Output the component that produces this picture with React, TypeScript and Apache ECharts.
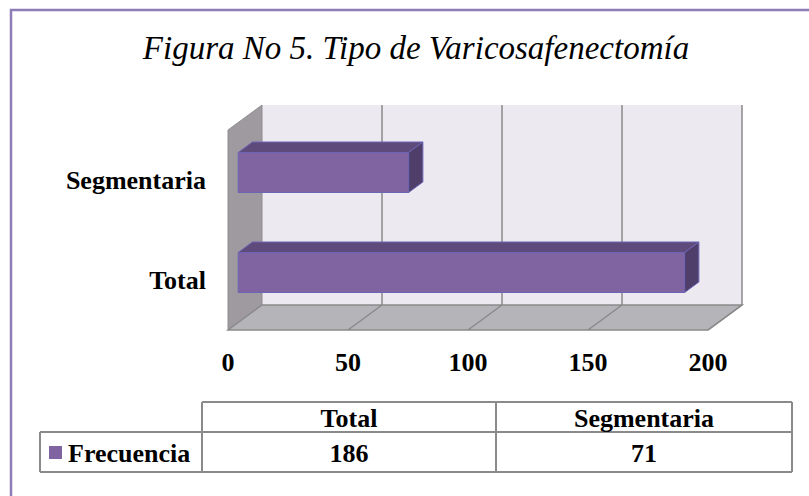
import React, { useEffect, useRef } from 'react';
import * as echarts from 'echarts';

const titleText = 'Figura No 5. Tipo de Varicosafenectomía';
const categories = ['Total', 'Segmentaria'];
const frecuencia = [186, 71];
const seriesName = 'Frecuencia';
const xTicks = [0, 50, 100, 150, 200];

const FONT = '"Liberation Serif", "Times New Roman", serif';
const DEPTH = [34, -25];
const BAR = '#8064A2';
const BAR_TOP = '#5F4B7B';
const BAR_SIDE = '#4F3E6A';
const BAR_EDGE = '#6C64B4';
const GRID = '#8A8A8A';
const LABEL_SIZE = 26;

export default function App() {
  const ref = useRef<HTMLDivElement>(null);
  useEffect(() => {
    if (!ref.current) return;
    const chart = echarts.init(ref.current, undefined, { renderer: 'svg' });
    const [dx, dy] = DEPTH;

    // table geometry
    const tTop = 402, tMid = 432, tBot = 472;
    const cLeft = 40, c0 = 202, c1 = 496, c2 = 792;
    const colCenters = [(c0 + c1) / 2, (c1 + c2) / 2];
    const lineStyle = { stroke: GRID, lineWidth: 2 };
    const hline = (x1: number, x2: number, y: number) => ({ type: 'line', shape: { x1, y1: y, x2, y2: y }, style: lineStyle });
    const vline = (x: number, y1: number, y2: number) => ({ type: 'line', shape: { x1: x, y1, x2: x, y2 }, style: lineStyle });
    const cellText = (text: string, x: number, y: number, align = 'center') => ({
      type: 'text', x, y,
      style: { text, fill: '#000', font: `bold ${LABEL_SIZE}px ${FONT}`, align, verticalAlign: 'middle' },
    });

    const tableEls: any[] = [
      hline(c0, c2, tTop), hline(cLeft, c2, tMid), hline(cLeft, c2, tBot),
      vline(c0, tTop, tBot), vline(c1, tTop, tBot), vline(c2, tTop, tBot), vline(cLeft, tMid, tBot),
      { type: 'rect', shape: { x: 49, y: 446, width: 13, height: 13 }, style: { fill: BAR } },
      cellText(seriesName, 68, (tMid + tBot) / 2 + 1, 'left'),
    ];
    categories.forEach((c, i) => {
      tableEls.push(cellText(c, colCenters[i], (tTop + tMid) / 2 + 1));
      tableEls.push(cellText(String(frecuencia[i]), colCenters[i], (tMid + tBot) / 2 + 1));
    });

    const option: any = {
      animation: false,
      backgroundColor: '#fff',
      grid: { left: 228, right: 101, top: 130, bottom: 166 },
      xAxis: {
        type: 'value', min: xTicks[0], max: xTicks[xTicks.length - 1], interval: xTicks[1] - xTicks[0],
        axisLine: { show: false }, axisTick: { show: false }, splitLine: { show: false },
        axisLabel: { margin: 19, color: '#000', fontFamily: FONT, fontWeight: 'bold', fontSize: LABEL_SIZE },
      },
      yAxis: {
        type: 'category', data: categories,
        axisLine: { show: false }, axisTick: { show: false }, splitLine: { show: false },
        axisLabel: { margin: 22, color: '#000', fontFamily: FONT, fontWeight: 'bold', fontSize: LABEL_SIZE },
      },
      graphic: [
        { type: 'rect', shape: { x: 11, y: 10, width: 830, height: 520 }, style: { fill: 'none', stroke: '#8E7CB6', lineWidth: 2.5 }, z: 100 },
        {
          type: 'text', x: 416, y: 48,
          style: { text: titleText, fill: '#000', font: `italic 33px ${FONT}`, align: 'center', verticalAlign: 'middle' },
        },
        ...tableEls,
      ],
      series: [
        {
          type: 'custom', name: 'walls', z: 1, silent: true,
          data: [[0, 0]],
          renderItem: (params: any) => {
            const cs = params.coordSys;
            const x = cs.x, y = cs.y, w = cs.width, h = cs.height;
            return {
              type: 'group',
              children: [
                { type: 'rect', shape: { x: x + dx, y: y + dy, width: w, height: h }, style: { fill: '#ECE9F1' } },
                { type: 'polygon', shape: { points: [[x, y], [x + dx, y + dy], [x + dx, y + h + dy], [x, y + h]] }, style: { fill: '#9E9AA0', stroke: '#8E8E8E', lineWidth: 1 } },
                { type: 'polygon', shape: { points: [[x, y + h], [x + dx, y + h + dy], [x + w + dx, y + h + dy], [x + w, y + h]] }, style: { fill: '#B5B4B9', stroke: GRID, lineWidth: 1.5 } },
              ],
            };
          },
        },
        {
          type: 'custom', name: 'gridlines', z: 2, silent: true,
          data: xTicks.filter((t) => t > 0).map((t) => [t, 0]),
          renderItem: (params: any, api: any) => {
            const cs = params.coordSys;
            const y = cs.y, h = cs.height;
            const px = api.coord([api.value(0), 0])[0];
            return {
              type: 'group',
              children: [
                { type: 'line', shape: { x1: px + dx, y1: y + dy, x2: px + dx, y2: y + h + dy }, style: { stroke: GRID, lineWidth: 1.5 } },
                { type: 'line', shape: { x1: px + dx, y1: y + h + dy, x2: px, y2: y + h }, style: { stroke: GRID, lineWidth: 1.5 } },
              ],
            };
          },
        },
        {
          type: 'custom', name: seriesName, z: 3,
          data: categories.map((c, i) => [frecuencia[i], i]),
          encode: { x: 0, y: 1 },
          renderItem: (params: any, api: any) => {
            const v = api.value(0), c = api.value(1);
            const p0 = api.coord([0, c]);
            const p1 = api.coord([v, c]);
            const band = api.size([0, 1])[1];
            const bh = band * 0.4;
            const fx = dx * 0.3, fy = dy * 0.3;
            const bx = dx * 0.42, by = dy * 0.42;
            const x0 = p0[0] + fx, x1 = p1[0] + fx;
            const yc = p0[1] + fy;
            const yt = yc - bh / 2, yb = yc + bh / 2;
            const edge = { stroke: BAR_EDGE, lineWidth: 1 };
            return {
              type: 'group',
              children: [
                { type: 'polygon', shape: { points: [[x0, yt], [x1, yt], [x1 + bx, yt + by], [x0 + bx, yt + by]] }, style: { fill: BAR_TOP, ...edge } },
                { type: 'polygon', shape: { points: [[x1, yt], [x1 + bx, yt + by], [x1 + bx, yb + by], [x1, yb]] }, style: { fill: BAR_SIDE, ...edge } },
                { type: 'rect', shape: { x: x0, y: yt, width: x1 - x0, height: bh }, style: { fill: BAR, ...edge } },
              ],
            };
          },
        },
      ],
    };
    chart.setOption(option);
    return () => chart.dispose();
  }, []);
  return <div ref={ref} style={{ position: 'fixed', left: 0, top: 0, width: 809, height: 496, background: '#fff' }} />;
}
